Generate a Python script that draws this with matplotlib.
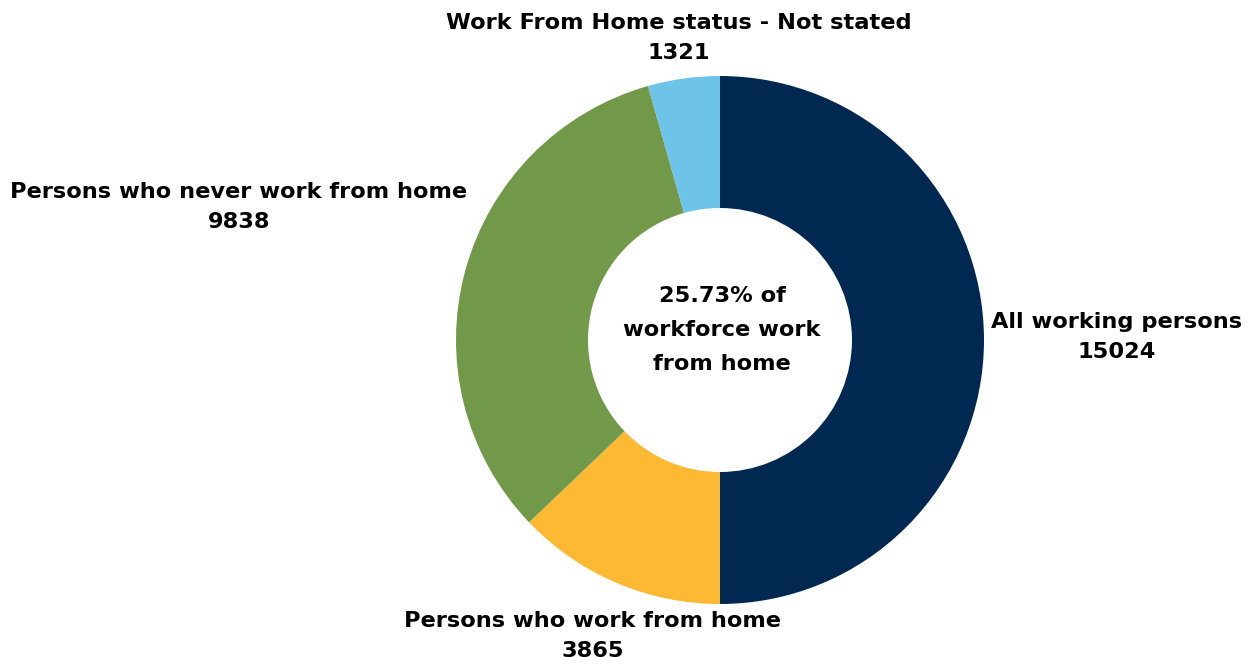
import matplotlib
matplotlib.use("Agg")
import matplotlib.pyplot as plt

categories = ["All working persons", "Persons who work from home",
              "Persons who never work from home", "Work From Home status - Not stated"]
values = [15024, 3865, 9838, 1321]
colors = ["#002850", "#FDB933", "#72994A", "#6EC4E8"]
center_text = "25.73% of\nworkforce work\nfrom home"

plt.rcParams['font.family'] = ['DejaVu Sans']

fig = plt.figure(figsize=(12.58, 6.68), dpi=100)
ax = fig.add_axes([0, 0, 1, 1])

cx, cy, r = 720, 328, 264
ax.pie(values, colors=colors, startangle=90, counterclock=False,
       center=(cx, cy), radius=r, wedgeprops=dict(width=r * 0.5, linewidth=0),
       frame=True)
ax.set_xlim(0, 1258)
ax.set_ylim(0, 668)
ax.axis('off')

fs = 16.2
ls = 1.62
label_pos = [(1117, 668 - 337), (593, 668 - 636), (239, 668 - 207), (679, 668 - 38)]
for cat, v, (x, y) in zip(categories, values, label_pos):
    ax.text(x, y, f"{cat}\n{v}", ha='center', va='center', fontsize=fs,
            fontweight='bold', color='black', linespacing=ls)

ax.text(722, 668 - 330, center_text, ha='center', va='center', fontsize=fs,
        fontweight='bold', color='black', linespacing=1.88)

fig.savefig("out.png", dpi=100)
